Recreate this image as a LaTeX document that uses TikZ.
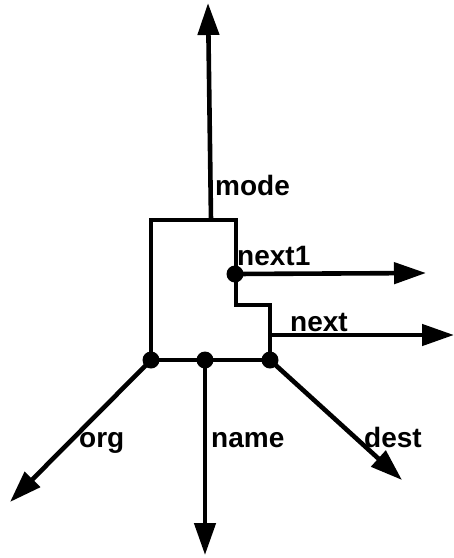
\documentclass[tikz,border=0pt]{standalone}
\usepackage{fontspec}
\setmainfont{Liberation Sans}
\usetikzlibrary{arrows.meta}
\begin{document}
\begin{tikzpicture}[x=1pt,y=-1pt,
  wire/.style={line width=4.6pt, line join=miter},
  arr/.style={wire,-{Triangle[length=32pt,width=21pt]}},
  dot/.style={circle,fill=black,inner sep=0pt,minimum size=17pt},
  lbl/.style={anchor=base west,inner sep=0pt,font=\fontsize{28}{30}\selectfont\bfseries}]
\useasboundingbox (0,0) rectangle (454,558);
% outline
\coordinate (tl) at (151,220);
\coordinate (tr) at (236,220);
\coordinate (s1) at (236,305);
\coordinate (s2) at (270,305);
\node[dot] (dO) at (151,360) {};
\node[dot] (dN) at (205,360) {};
\node[dot] (dD) at (270,360) {};
\node[dot] (dX) at (235,274) {};
\coordinate (mbase) at (211,220);
\coordinate (mtip) at (208,3);
\coordinate (x1tip) at (426,273);
\coordinate (nbase) at (270,335);
\coordinate (ntip) at (454,335);
\coordinate (otip) at (10,502);
\coordinate (ntip2) at (205,555);
\coordinate (dtip) at (402,480);
\draw[wire] (dO.center) -- (tl) -- (tr) -- (s1) -- (s2) -- (dD.center) -- (dO.center);
\draw[arr] (mbase) -- (mtip);
\draw[arr] (dX.center) -- (x1tip);
\draw[arr] (nbase) -- (ntip);
\draw[arr] (dO.center) -- (otip);
\draw[arr] (dN.center) -- (ntip2);
\draw[arr] (dD.center) -- (dtip);
\node[lbl] (Lmode) at (215,195) {mode};
\node[lbl] (Lnext1) at (237,265) {next1};
\node[lbl] (Lnext) at (290,331) {next};
\node[lbl] (Lorg) at (79,447) {org};
\node[lbl] (Lname) at (211,447) {name};
\node[lbl] (Ldest) at (364,447) {dest};
\end{tikzpicture}
\end{document}
